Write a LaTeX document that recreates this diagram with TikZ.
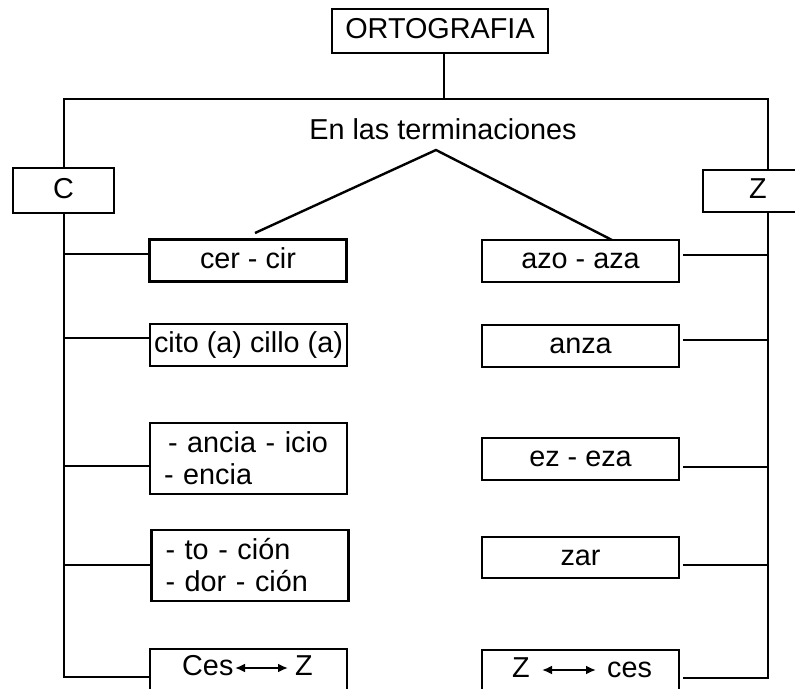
\documentclass[tikz,border=0pt]{standalone}
\usepackage{fontspec}
\setmainfont{Liberation Sans}
\usetikzlibrary{arrows.meta}
\newcommand\fs{\fontsize{28.8}{32}\selectfont}
\begin{document}
\begin{tikzpicture}[x=1pt,y=-1pt,
  lw/.style={line width=2.4pt},
  box/.style={draw,line width=2.6pt,rectangle,inner sep=0pt,fill=white,
    minimum width=197pt,minimum height=42pt,font=\fs,
    text height=20.5pt,text depth=5.5pt},
  mbox/.style={draw,line width=2.6pt,rectangle,inner xsep=14pt,inner ysep=0pt,
    text width=169pt,align=left,minimum height=71pt,font=\fs},
  txt/.style={inner sep=0pt,font=\fs},
  dblarr/.style={line width=2pt,{Latex[length=10pt,width=9pt]}-{Latex[length=10pt,width=9pt]}}
]
\useasboundingbox (0,0) rectangle (795,688);
\clip (0,0) rectangle (795,688);
\fill[white] (0,0) rectangle (795,688);

% top
\node[box,minimum width=216pt,minimum height=44pt] (orto) at (440,31) {ORTOGRAFIA};
\coordinate (top) at (444,99);
\coordinate (tl) at (64,99);
\coordinate (tr) at (768,99);

% side boxes
\node[box,minimum width=101pt,minimum height=45pt] (C) at (63.5,190.5) {C};
\node[box,minimum width=110pt,minimum height=42pt] (Z) at (758,191) {Z};

\node[txt,anchor=base] (en) at (443,139) {En las terminaciones};
\coordinate (apex) at (436,150);
\coordinate (vl) at (255,233);
\coordinate (vr) at (612,240);

% left boxes
\node[box] (cer) at (248,260.5) {cer - cir};
\node[box] (cito) at (248.5,345) {cito (a) cillo (a)};
\node[mbox] (ancia) at (248.5,458.5) {\hspace*{4pt}- ancia - icio\\- encia};
\node[mbox,minimum width=196pt] (toc) at (250,565.5) {- to - ción\\- dor - ción};
\node[box,minimum height=43pt] (ces) at (248.5,670.5) {};

% right boxes
\node[box] (azo) at (580.5,261) {azo - aza};
\node[box] (anza) at (580.5,346) {anza};
\node[box] (ez) at (580.5,459) {ez - eza};
\node[box,minimum height=41pt] (zar) at (580.5,557.5) {zar};
\node[box,minimum height=42pt] (zces) at (580.5,671) {};

% texts with double arrows
\node[txt,anchor=base west] (cesA) at (182,675) {Ces};
\node[txt,anchor=base west] (cesB) at (295,675) {Z};
\coordinate (a1) at (235,668);
\coordinate (a2) at (288,668);
\draw[dblarr] (a1) -- (a2);
\node[txt,anchor=base west] (zcA) at (512,677) {Z};
\node[txt,anchor=base west] (zcB) at (607,677) {ces};
\coordinate (b1) at (542,670);
\coordinate (b2) at (596,670);
\draw[dblarr] (b1) -- (b2);

% frame lines
\draw[lw] (top |- orto.south) -- (top);
\draw[lw] (tl |- C.north) -- (tl) -- (tr) -- (tr |- Z.north);

% V from heading
\draw[lw] (vl) -- (apex) -- (vr);

% left spine
\coordinate (l1) at (64,254);
\coordinate (l2) at (64,338);
\coordinate (l3) at (64,466);
\coordinate (l4) at (64,565);
\coordinate (l5) at (64,677);
\draw[lw] (tl |- C.south) -- (l5) -- (l5 -| ces.west);
\draw[lw] (l1) -- (l1 -| cer.west);
\draw[lw] (l2) -- (l2 -| cito.west);
\draw[lw] (l3) -- (l3 -| ancia.west);
\draw[lw] (l4) -- (l4 -| toc.west);

% right spine
\coordinate (r1) at (768,255);
\coordinate (r2) at (768,340);
\coordinate (r3) at (768,467);
\coordinate (r4) at (768,565);
\coordinate (r5) at (768,678);
\draw[lw,shorten >=3pt] (tr |- Z.south) -- (r5) -- (r5 -| zces.east);
\draw[lw,shorten >=3pt] (r1) -- (r1 -| azo.east);
\draw[lw,shorten >=3pt] (r2) -- (r2 -| anza.east);
\draw[lw,shorten >=3pt] (r3) -- (r3 -| ez.east);
\draw[lw,shorten >=3pt] (r4) -- (r4 -| zar.east);
\end{tikzpicture}
\end{document}
